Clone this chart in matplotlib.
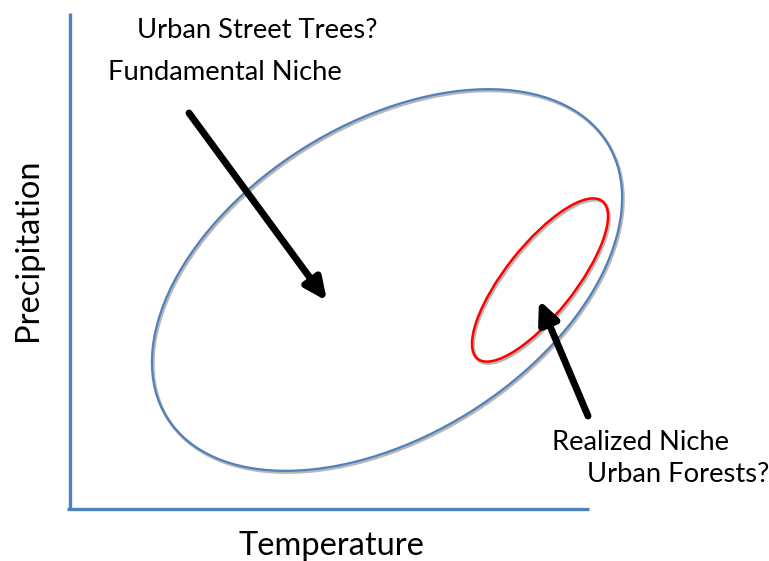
import matplotlib.pyplot as plt
from matplotlib.patches import Ellipse

plt.rcParams['font.family'] = ['Lato', 'DejaVu Sans']

W, H = 769, 561

# niche ellipses (pixel coords, y measured from top): center x, center y, width, height, angle
fundamental = (387, 280, 519, 312, 32)
realized = (540, 280, 201, 69, 51.6)

# arrows: tail (x, y) -> head (x, y)
arrow_fund = ((189, 113), (327, 301))
arrow_real = ((588, 416), (539, 300))

labels = [
    ("Urban Street Trees?", 137, 38),
    ("Fundamental Niche", 108, 80),
    ("Realized Niche", 552, 450),
    ("Urban Forests?", 587, 482),
]

fig = plt.figure(figsize=(W / 100, H / 100), dpi=100)
ax = fig.add_axes([0, 0, 1, 1])
ax.set_xlim(0, W)
ax.set_ylim(0, H)
ax.axis('off')


def fy(y):
    return H - y


# axis lines
axis_blue = '#4f81bd'
ax.plot([69.5, 69.5], [fy(13), fy(509)], color=axis_blue, lw=2.4, solid_capstyle='butt')
ax.plot([67, 589], [fy(508.5), fy(508.5)], color=axis_blue, lw=2.4, solid_capstyle='butt')

# ellipses with a soft grey shadow
for (cx, cy, w, h, a), col, lw in [(fundamental, '#4f81bd', 1.6), (realized, '#ff0000', 1.8)]:
    ax.add_patch(Ellipse((cx + 1.2, fy(cy) - 1.6), w, h, angle=a, fill=False,
                         ec='#9a9a9a', lw=lw + 0.6, alpha=0.7, zorder=2))
    ax.add_patch(Ellipse((cx, fy(cy)), w, h, angle=a, fill=False, ec=col, lw=lw, zorder=3))

# arrows
for (x0, y0), (x1, y1) in [arrow_fund, arrow_real]:
    ax.annotate('', xy=(x1, fy(y1)), xytext=(x0, fy(y0)),
                arrowprops=dict(arrowstyle='-|>,head_length=1.3,head_width=0.6',
                                color='black', lw=5, shrinkA=0, shrinkB=0),
                zorder=4)

for txt, x, y in labels:
    ax.text(x, fy(y), txt, fontsize=19.7, ha='left', va='baseline', color='black')

ax.text(331, fy(555), "Temperature", fontsize=23.5, ha='center', va='baseline')
ax.text(28, fy(250), "Precipitation", fontsize=23.5, ha='center', va='center', rotation=90)

fig.savefig('out.png', dpi=100)
